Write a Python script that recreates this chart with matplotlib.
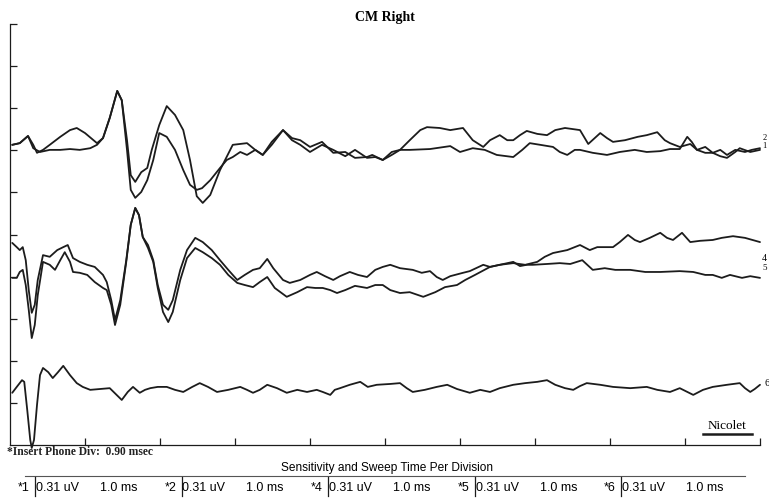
import matplotlib
matplotlib.use("Agg")
import matplotlib.pyplot as plt
from matplotlib.lines import Line2D

# time in ms (1.0 ms / division), amplitude in divisions (0.31 uV / division)
t1 = [0.03, 0.13, 0.24, 0.31, 0.36, 0.44, 0.53, 0.67, 0.80, 0.89,
      1.00, 1.16, 1.24, 1.33, 1.43, 1.49, 1.56, 1.61, 1.67, 1.75,
      1.83, 1.89, 1.99, 2.09, 2.20, 2.31, 2.40, 2.49, 2.57, 2.67,
      2.80, 2.97, 3.16, 3.27, 3.37, 3.49, 3.64, 3.76, 3.87, 4.00,
      4.16, 4.31, 4.47, 4.60, 4.76, 4.83, 4.97, 5.09, 5.20, 5.33,
      5.47, 5.56, 5.73, 5.87, 6.04, 6.17, 6.31, 6.40, 6.53, 6.63,
      6.71, 6.80, 6.89, 7.03, 7.16, 7.27, 7.40, 7.60, 7.71, 7.87,
      7.96, 8.04, 8.20, 8.37, 8.49, 8.63, 8.73, 8.80, 8.93, 9.07,
      9.16, 9.27, 9.37, 9.47, 9.56, 9.67, 9.80, 9.89, 10.00]
v1 = [7.13, 7.17, 7.34, 7.13, 6.94, 7.01, 7.13, 7.32, 7.48, 7.53,
      7.41, 7.17, 7.29, 7.77, 8.41, 8.19, 7.24, 6.41, 6.25, 6.48,
      6.58, 7.01, 7.60, 8.05, 7.84, 7.48, 6.77, 5.91, 5.75, 5.94,
      6.53, 7.13, 7.17, 7.01, 6.89, 7.13, 7.48, 7.29, 7.24, 7.08,
      7.20, 6.94, 6.96, 6.82, 6.84, 6.89, 6.77, 6.89, 7.01, 7.24,
      7.48, 7.55, 7.53, 7.48, 7.53, 7.24, 7.08, 7.24, 7.36, 7.24,
      7.24, 7.36, 7.46, 7.39, 7.36, 7.48, 7.53, 7.48, 7.15, 7.41,
      7.29, 7.20, 7.24, 7.32, 7.36, 7.43, 7.24, 7.17, 7.08, 7.15,
      7.01, 7.08, 6.94, 7.01, 6.89, 7.01, 6.96, 7.01, 7.05]

t2 = [0.03, 0.13, 0.24, 0.31, 0.40, 0.53, 0.67, 0.80, 0.93, 1.07,
      1.16, 1.24, 1.33, 1.43, 1.49, 1.56, 1.61, 1.67, 1.75, 1.83,
      1.91, 1.99, 2.09, 2.20, 2.31, 2.40, 2.49, 2.56, 2.67, 2.80,
      2.89, 2.97, 3.07, 3.16, 3.27, 3.37, 3.49, 3.64, 3.76, 3.87,
      4.00, 4.16, 4.31, 4.47, 4.60, 4.76, 4.87, 4.97, 5.09, 5.20,
      5.33, 5.60, 5.87, 6.00, 6.17, 6.33, 6.49, 6.71, 6.83, 6.93,
      7.07, 7.24, 7.33, 7.43, 7.53, 7.60, 7.77, 7.96, 8.13, 8.33,
      8.49, 8.67, 8.80, 8.93, 9.03, 9.09, 9.16, 9.27, 9.37, 9.47,
      9.56, 9.67, 9.73, 9.87, 10.00]
v2 = [7.13, 7.17, 7.34, 7.05, 6.96, 7.01, 7.01, 7.03, 7.01, 7.05,
      7.13, 7.29, 7.77, 8.41, 8.19, 7.01, 6.06, 5.87, 6.01, 6.29,
      6.77, 7.41, 7.32, 7.01, 6.53, 6.18, 6.06, 6.10, 6.29, 6.58,
      6.77, 6.84, 6.96, 6.89, 7.01, 6.89, 7.20, 7.48, 7.24, 7.13,
      6.96, 7.13, 7.01, 6.86, 7.01, 6.82, 6.84, 6.77, 6.96, 7.01,
      7.01, 7.03, 7.10, 6.96, 7.05, 7.01, 6.89, 6.84, 7.01, 7.17,
      7.13, 7.08, 6.96, 6.89, 7.01, 7.01, 6.94, 6.89, 6.96, 7.01,
      6.96, 6.98, 7.03, 7.03, 7.32, 7.20, 7.01, 6.94, 6.94, 6.86,
      6.82, 6.96, 7.05, 6.96, 7.01]

t4 = [0.03, 0.09, 0.13, 0.17, 0.21, 0.25, 0.29, 0.33, 0.37, 0.44,
      0.53, 0.63, 0.71, 0.77, 0.84, 0.93, 1.03, 1.13, 1.24, 1.29,
      1.35, 1.40, 1.47, 1.55, 1.61, 1.67, 1.72, 1.77, 1.84, 1.91,
      1.97, 2.04, 2.11, 2.17, 2.27, 2.36, 2.47, 2.57, 2.69, 2.80,
      2.91, 3.03, 3.13, 3.24, 3.33, 3.43, 3.51, 3.64, 3.73, 3.87,
      4.00, 4.09, 4.20, 4.31, 4.40, 4.53, 4.64, 4.76, 4.87, 4.97,
      5.07, 5.20, 5.37, 5.49, 5.60, 5.69, 5.77, 5.87, 6.04, 6.13,
      6.31, 6.40, 6.53, 6.71, 6.80, 6.89, 6.97, 7.16, 7.33, 7.47,
      7.63, 7.77, 7.93, 8.07, 8.27, 8.47, 8.67, 8.93, 9.11, 9.27,
      9.37, 9.49, 9.60, 9.76, 9.87, 10.00]
v4 = [4.80, 4.70, 4.63, 4.70, 4.39, 3.68, 3.14, 3.33, 3.92, 4.51,
      4.47, 4.63, 4.70, 4.75, 4.44, 4.35, 4.28, 4.23, 4.04, 3.87,
      3.44, 2.97, 3.44, 4.39, 5.23, 5.63, 5.46, 4.94, 4.75, 4.39,
      3.80, 3.33, 3.21, 3.44, 4.16, 4.63, 4.92, 4.82, 4.63, 4.39,
      4.16, 3.92, 4.04, 4.16, 4.20, 4.42, 4.20, 3.92, 3.85, 3.92,
      4.04, 4.11, 4.01, 3.92, 4.01, 4.11, 4.04, 3.99, 4.16, 4.23,
      4.28, 4.20, 4.16, 4.09, 4.13, 3.99, 3.92, 4.01, 4.09, 4.13,
      4.28, 4.23, 4.28, 4.35, 4.25, 4.28, 4.28, 4.30, 4.32, 4.30,
      4.39, 4.16, 4.20, 4.16, 4.16, 4.11, 4.11, 4.13, 4.11, 4.04,
      4.04, 3.97, 4.04, 3.97, 4.01, 3.97]

t5 = [0.03, 0.09, 0.13, 0.17, 0.21, 0.25, 0.29, 0.33, 0.37, 0.44,
      0.53, 0.60, 0.67, 0.73, 0.80, 0.84, 0.93, 1.03, 1.13, 1.24,
      1.29, 1.35, 1.40, 1.47, 1.55, 1.61, 1.67, 1.72, 1.77, 1.84,
      1.91, 1.97, 2.04, 2.11, 2.17, 2.27, 2.36, 2.47, 2.57, 2.69,
      2.80, 2.91, 3.03, 3.13, 3.24, 3.33, 3.43, 3.53, 3.69, 3.83,
      3.96, 4.07, 4.17, 4.27, 4.36, 4.47, 4.60, 4.76, 4.87, 4.97,
      5.07, 5.20, 5.33, 5.51, 5.67, 5.80, 5.96, 6.07, 6.20, 6.40,
      6.53, 6.71, 6.87, 7.03, 7.13, 7.24, 7.43, 7.60, 7.73, 7.83,
      8.04, 8.13, 8.24, 8.33, 8.40, 8.53, 8.67, 8.76, 8.84, 8.96,
      9.07, 9.20, 9.37, 9.49, 9.64, 9.80, 10.00]
v5 = [3.97, 3.97, 4.11, 4.16, 3.80, 3.21, 2.54, 2.85, 3.56, 4.35,
      4.28, 4.16, 4.39, 4.58, 4.35, 4.11, 4.09, 4.04, 3.87, 3.73,
      3.68, 3.33, 2.85, 3.33, 4.35, 5.23, 5.63, 5.46, 4.94, 4.68,
      4.35, 3.73, 3.16, 2.92, 3.16, 3.92, 4.44, 4.68, 4.58, 4.44,
      4.28, 4.04, 3.85, 3.80, 3.75, 3.87, 3.99, 3.73, 3.52, 3.63,
      3.75, 3.73, 3.73, 3.68, 3.61, 3.68, 3.78, 3.73, 3.80, 3.80,
      3.68, 3.61, 3.63, 3.52, 3.63, 3.75, 3.80, 3.92, 4.04, 4.23,
      4.28, 4.32, 4.28, 4.35, 4.47, 4.56, 4.63, 4.75, 4.63, 4.70,
      4.70, 4.82, 4.99, 4.87, 4.82, 4.92, 5.04, 4.92, 4.87, 5.04,
      4.82, 4.85, 4.87, 4.92, 4.96, 4.92, 4.82]

t6 = [0.03, 0.09, 0.16, 0.19, 0.23, 0.27, 0.29, 0.32, 0.36, 0.40,
      0.44, 0.51, 0.57, 0.64, 0.71, 0.80, 0.89, 0.97, 1.07, 1.20,
      1.33, 1.41, 1.49, 1.57, 1.64, 1.73, 1.80, 1.87, 1.97, 2.09,
      2.20, 2.31, 2.43, 2.53, 2.64, 2.76, 2.91, 3.07, 3.16, 3.24,
      3.33, 3.43, 3.56, 3.69, 3.83, 3.96, 4.09, 4.17, 4.27, 4.33,
      4.40, 4.53, 4.67, 4.77, 4.89, 5.07, 5.20, 5.29, 5.37, 5.53,
      5.69, 5.83, 5.96, 6.13, 6.27, 6.40, 6.53, 6.71, 6.87, 7.03,
      7.16, 7.27, 7.40, 7.51, 7.60, 7.69, 7.87, 8.04, 8.27, 8.49,
      8.63, 8.80, 8.93, 9.11, 9.24, 9.37, 9.56, 9.73, 9.80, 9.87,
      9.93, 10.00]
v6 = [1.24, 1.38, 1.54, 1.50, 0.83, 0.12, -0.07, 0.12, 0.95, 1.66,
      1.83, 1.73, 1.59, 1.73, 1.88, 1.66, 1.47, 1.38, 1.31, 1.33,
      1.35, 1.21, 1.07, 1.26, 1.38, 1.24, 1.31, 1.35, 1.38, 1.38,
      1.31, 1.26, 1.38, 1.47, 1.38, 1.26, 1.31, 1.38, 1.31, 1.24,
      1.31, 1.43, 1.35, 1.24, 1.31, 1.26, 1.31, 1.26, 1.19, 1.31,
      1.35, 1.43, 1.50, 1.38, 1.43, 1.45, 1.47, 1.35, 1.26, 1.31,
      1.38, 1.43, 1.33, 1.24, 1.31, 1.26, 1.35, 1.43, 1.47, 1.50,
      1.54, 1.43, 1.35, 1.31, 1.40, 1.47, 1.43, 1.38, 1.35, 1.38,
      1.31, 1.26, 1.35, 1.19, 1.31, 1.38, 1.43, 1.47, 1.35, 1.26,
      1.33, 1.43]

channels = ['*1', '*2', '*4', '*5', '*6']
sensitivity = '0.31 uV'
sweep = '1.0 ms'

W, H = 769, 500
fig = plt.figure(figsize=(W / 100, H / 100), dpi=100)
ax = fig.add_axes([10 / W, 55 / H, 750 / W, 421 / H])

ink = '#1c1c1c'
for t, v in [(t1, v1), (t2, v2), (t4, v4), (t5, v5), (t6, v6)]:
    ax.plot(t, v, color=ink, lw=1.3, clip_on=False,
            solid_joinstyle='round', solid_capstyle='round')

ax.set_xlim(0, 10)
ax.set_ylim(0, 10)
ax.set_xticks(range(1, 11))
ax.set_yticks(range(1, 11))
ax.tick_params(direction='in', length=5, width=0.9, color=ink,
               labelbottom=False, labelleft=False)
for s in ['top', 'right']:
    ax.spines[s].set_visible(False)
for s in ['left', 'bottom']:
    ax.spines[s].set_color(ink)
    ax.spines[s].set_linewidth(0.9)

# trace numbers at right end
serif = ['Liberation Serif', 'DejaVu Serif']
ax.text(10.03, 7.30, '2', fontsize=6, family=serif, va='center', clip_on=False)
ax.text(10.03, 7.10, '1', fontsize=6, family=serif, va='center', clip_on=False)
ax.text(10.03, 4.42, '4', fontsize=7, family=serif, va='center', clip_on=False)
ax.text(10.03, 4.20, '5', fontsize=6.5, family=serif, va='center', clip_on=False)
ax.text(10.06, 1.47, '6', fontsize=7.5, family=serif, va='center', clip_on=False)

fig.text(385 / W, 1 - 17 / H, 'CM Right', family=serif, fontsize=10,
         fontweight='bold', ha='center', va='center')

fig.text(727 / W, 1 - 426 / H, 'Nicolet', family=serif, fontsize=9.5,
         ha='center', va='center')
fig.add_artist(Line2D([703 / W, 752 / W], [1 - 434 / H, 1 - 434 / H],
                      color=ink, lw=1.8))

fig.text(7 / W, 1 - 452 / H, '*Insert Phone Div:  0.90 msec', family=serif,
         fontsize=8.3, fontweight='bold', ha='left', va='center', color='#222')

sans = ['Liberation Sans', 'DejaVu Sans']
fig.text(387 / W, 1 - 468 / H, 'Sensitivity and Sweep Time Per Division',
         family=sans, fontsize=8.6, ha='center', va='center')
fig.add_artist(Line2D([25 / W, 745 / W], [1 - 476 / H, 1 - 476 / H],
                      color='#555', lw=0.8))

for i, ch in enumerate(channels):
    x0 = 18 + i * 146.5
    fig.text(x0 / W, 1 - 488 / H, ch, family=sans, fontsize=9,
             ha='left', va='center')
    fig.add_artist(Line2D([(x0 + 17) / W, (x0 + 17) / W],
                          [1 - 477 / H, 1 - 496 / H], color=ink, lw=0.9))
    fig.text((x0 + 18) / W, 1 - 488 / H, sensitivity, family=sans,
             fontsize=9, ha='left', va='center')
    fig.text((x0 + 82) / W, 1 - 488 / H, sweep, family=sans, fontsize=9,
             ha='left', va='center')

fig.savefig('out.png', dpi=100)
